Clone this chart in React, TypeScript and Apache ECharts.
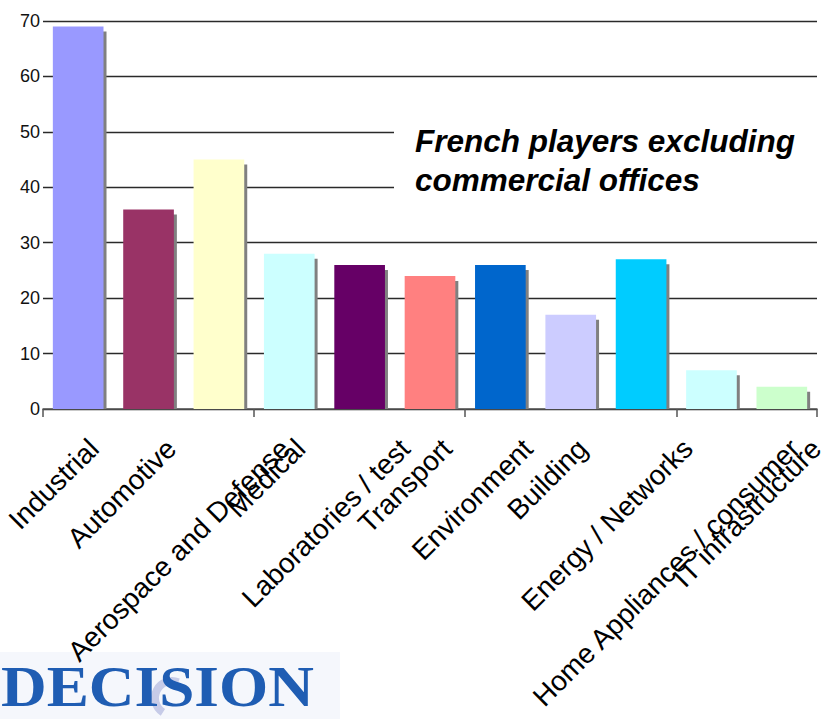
import React, { useEffect, useRef } from "react";
import * as echarts from "echarts";

const categories = [
  "Industrial",
  "Automotive",
  "Aerospace and Defense",
  "Medical",
  "Laboratories / test",
  "Transport",
  "Environment",
  "Building",
  "Energy / Networks",
  "Home Appliances / consumer",
  "IT infrastructure",
];
const values = [69, 36, 45, 28, 26, 24, 26, 17, 27, 7, 4];
const colors = [
  "#9999ff",
  "#993366",
  "#ffffcc",
  "#ccffff",
  "#660066",
  "#ff8080",
  "#0066cc",
  "#ccccff",
  "#00ccff",
  "#ccffff",
  "#ccffcc",
];
const titleLines = ["French players excluding", "commercial offices"];
const logoText = "DECISION";

const LABEL_SIZE = 28;
const LABEL_FONT = LABEL_SIZE + 'px "Liberation Sans", Arial, sans-serif';

export default function App() {
  const ref = useRef<HTMLDivElement>(null);
  useEffect(() => {
    if (!ref.current) return;
    const chart = echarts.init(ref.current, null, { renderer: "svg" });
    const ctx = document.createElement("canvas").getContext("2d")!;
    ctx.font = LABEL_FONT;
    const widths = categories.map((c) => ctx.measureText(c).width);
    const W = 831;

    const option: any = {
      animation: false,
      grid: { left: 43, right: 14, top: 21, bottom: 310, containLabel: false },
      xAxis: {
        type: "category",
        data: categories,
        boundaryGap: true,
        axisLine: { show: true, lineStyle: { color: "#555", width: 1.5 } },
        axisTick: { show: true, length: 8, lineStyle: { color: "#555", width: 1.5 } },
        axisLabel: { show: false },
        splitLine: { show: false },
      },
      yAxis: {
        type: "value",
        min: 0,
        max: 70,
        interval: 10,
        axisLine: { show: false },
        axisTick: { show: false },
        axisLabel: {
          margin: 3,
          color: "#111",
          fontSize: 18,
          fontFamily: '"Liberation Sans", Arial, sans-serif',
        },
        splitLine: { show: true, lineStyle: { color: "#2a2a2a", width: 1.3 } },
      },
      series: [
        {
          type: "custom",
          name: "shadow",
          z: 1,
          silent: true,
          data: values.map((v, i) => [i, v]),
          encode: { x: 0, y: 1 },
          renderItem: (params: any, api: any) => {
            const i = api.value(0);
            const v = api.value(1);
            const top = api.coord([i, v]);
            const base = api.coord([i, 0]);
            const bw = api.size([1, 0])[0] * 0.72;
            return {
              type: "rect",
              shape: {
                x: top[0] - bw / 2 + 3,
                y: top[1] + 5,
                width: bw,
                height: base[1] - top[1] - 5,
              },
              style: { fill: "#808080" },
            };
          },
        },
        {
          type: "bar",
          name: "French players",
          z: 2,
          barWidth: "72%",
          data: values.map((v, i) => ({ value: v, itemStyle: { color: colors[i] } })),
        },
        {
          type: "custom",
          name: "labels",
          z: 3,
          silent: true,
          clip: false,
          data: categories.map((_, i) => [i, 0]),
          encode: { x: 0, y: 1 },
          renderItem: (params: any, api: any) => {
            const i = api.value(0);
            const base = api.coord([i, 0]);
            const L = widths[i];
            const x = Math.min(base[0] + 0.27 * L - 15, W - 2 - LABEL_SIZE * 0.45);
            return {
              type: "text",
              x,
              y: base[1] + 35,
              rotation: Math.PI / 4,
              style: {
                text: categories[i],
                font: LABEL_FONT,
                lineHeight: LABEL_SIZE + 2,
                fill: "#000",
                align: "right",
                verticalAlign: "middle",
              },
            };
          },
        },
      ],
      graphic: [
        {
          type: "rect",
          z: 100,
          shape: { x: 394, y: 112, width: 437, height: 92 },
          style: { fill: "#ffffff" },
        },
        {
          type: "text",
          z: 101,
          x: 415,
          y: 121,
          style: {
            text: titleLines.join("\n"),
            font: 'italic bold 31.5px "Liberation Sans", Arial, sans-serif',
            lineHeight: 39,
            fill: "#000",
            align: "left",
            verticalAlign: "top",
          },
        },
        {
          type: "rect",
          z: 0,
          shape: { x: 0, y: 652, width: 340, height: 67 },
          style: { fill: "#f5f7fc" },
        },
        {
          type: "arc",
          z: 0,
          shape: { cx: 172, cy: 698, r: 17, startAngle: Math.PI * 0.68, endAngle: Math.PI * 1.62 },
          style: { stroke: "#c6cbe8", lineWidth: 8, fill: "none" },
        },
        {
          type: "text",
          z: 1,
          x: 1,
          y: 687,
          scaleX: 1.11,
          style: {
            text: logoText,
            font: 'bold 57px "Liberation Serif", "Times New Roman", serif',
            lineHeight: 42,
            fill: "#1f5db3",
            align: "left",
            verticalAlign: "middle",
          },
        },
      ],
    };
    chart.setOption(option);
    return () => chart.dispose();
  }, []);
  return (
    <div
      ref={ref}
      style={{ position: "absolute", left: 0, top: 0, width: 831, height: 719 }}
    />
  );
}
